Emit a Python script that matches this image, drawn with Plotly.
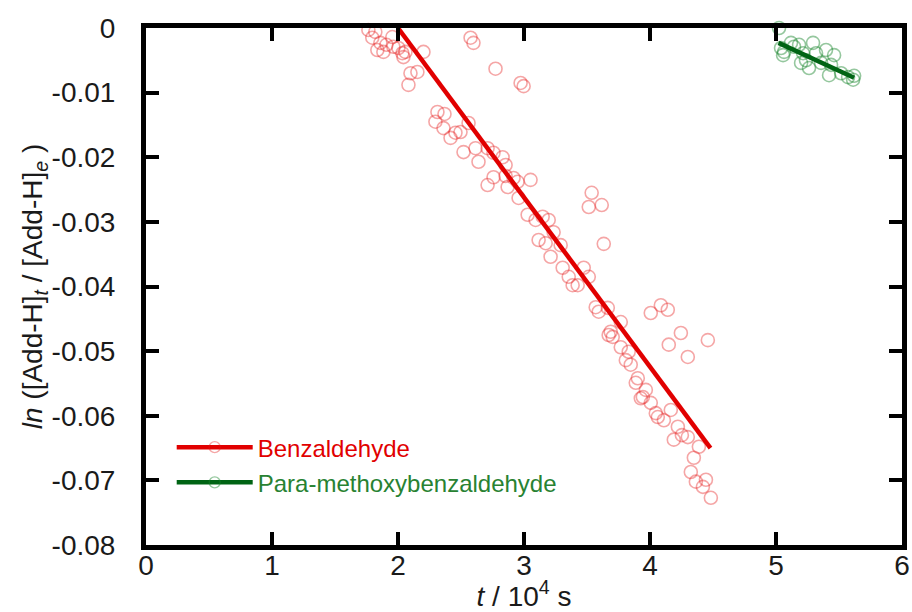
import plotly.graph_objects as go

# Benzaldehyde data (t in 10^4 s, ln ratio)
benz_t = [1.765, 1.820, 1.796, 1.860, 1.836, 1.884, 1.908, 1.955, 1.963, 2.003, 2.035, 2.043, 2.059,
          2.202, 2.099, 2.154, 2.083,
          2.576, 2.599, 2.774, 2.973, 2.997,
          2.297, 2.313, 2.369, 2.361, 2.417, 2.456, 2.496, 2.560, 2.520, 2.615, 2.639, 2.711, 2.758,
          2.830, 2.854, 2.854, 2.711, 2.758, 2.870, 2.917, 2.949, 3.052, 2.957, 3.029, 3.092, 3.148,
          3.196, 3.235, 3.116, 3.172, 3.291, 3.211, 3.307, 3.355, 3.386, 3.426, 3.474, 3.514,
          3.537, 3.514, 3.617, 3.633,
          3.569, 3.593, 3.665, 3.768, 3.688, 3.704, 3.672, 3.768, 3.831, 3.808, 3.847, 3.903, 3.887,
          3.967, 3.943, 3.927, 4.006, 4.046, 4.062, 4.110, 4.165, 4.221, 4.189, 4.253, 4.300,
          4.388, 4.348, 4.324, 4.364, 4.444, 4.420, 4.483,
          4.006, 4.086, 4.141, 4.149, 4.245, 4.300, 4.459]
benz_y = [-0.0003, -0.0006, -0.0015, -0.0023, -0.0034, -0.0037, -0.0026, -0.0014, -0.0029, -0.0031,
          -0.0039, -0.0045, -0.0037,
          -0.0037, -0.0070, -0.0068, -0.0088,
          -0.0015, -0.0023, -0.0063, -0.0085, -0.0090,
          -0.0145, -0.0130, -0.0133, -0.0155, -0.0170, -0.0162, -0.0161, -0.0147, -0.0192, -0.0186,
          -0.0207, -0.0186, -0.0193, -0.0200, -0.0212, -0.0229, -0.0243, -0.0231, -0.0246, -0.0232,
          -0.0238, -0.0235, -0.0263, -0.0289, -0.0297, -0.0292, -0.0297, -0.0316, -0.0328, -0.0333,
          -0.0336, -0.0354, -0.0371, -0.0385, -0.0398, -0.0398, -0.0371, -0.0385,
          -0.0255, -0.0277, -0.0274, -0.0334,
          -0.0432, -0.0439, -0.0433, -0.0455, -0.0470, -0.0478, -0.0475, -0.0494, -0.0501, -0.0514,
          -0.0521, -0.0542, -0.0549, -0.0560, -0.0571, -0.0573, -0.0580, -0.0596, -0.0602, -0.0607,
          -0.0591, -0.0617, -0.0637, -0.0630, -0.0633,
          -0.0648, -0.0665, -0.0687, -0.0702, -0.0699, -0.0710, -0.0727,
          -0.0441, -0.0429, -0.0436, -0.0490, -0.0472, -0.0509, -0.0483]

# Para-methoxybenzaldehyde data
pmb_t = [5.024, 5.040, 5.064, 5.119, 5.143, 5.183, 5.215, 5.238, 5.262, 5.294, 5.318, 5.358,
         5.397, 5.437, 5.461, 5.421, 5.517, 5.572, 5.612, 5.620, 5.199, 5.056]
pmb_y = [0.0, -0.0031, -0.0037, -0.0023, -0.0029, -0.0026, -0.0039, -0.0050, -0.0062, -0.0023,
         -0.0039, -0.0054, -0.0034, -0.0057, -0.0042, -0.0073, -0.0070, -0.0076, -0.0080, -0.0074,
         -0.0054, -0.0042]

# Linear fits (end points)
benz_fit_t = [2.0, 4.48]
benz_fit_y = [0.0, -0.065]
pmb_fit_t = [5.02, 5.62]
pmb_fit_y = [-0.0023, -0.0077]

x_ticks = [0, 1, 2, 3, 4, 5, 6]
y_ticks = [0, -0.01, -0.02, -0.03, -0.04, -0.05, -0.06, -0.07, -0.08]
y_ticktext = ["0", "-0.01", "-0.02", "-0.03", "-0.04", "-0.05", "-0.06", "-0.07", "-0.08"]

RED = "rgb(225,0,0)"
RED_M = "rgba(230,20,20,0.38)"
GREEN = "rgb(0,100,20)"
GREEN_M = "rgba(20,130,40,0.45)"
FONT = "Liberation Sans, Arial, sans-serif"
TXT = "#1a1a1a"

fig = go.Figure()
fig.add_trace(go.Scatter(x=benz_t, y=benz_y, mode="markers", showlegend=False, cliponaxis=False,
                         marker=dict(symbol="circle-open", size=13, color=RED_M, line=dict(width=1.6))))
fig.add_trace(go.Scatter(x=pmb_t, y=pmb_y, mode="markers", showlegend=False, cliponaxis=False,
                         marker=dict(symbol="circle-open", size=13, color=GREEN_M, line=dict(width=1.6))))
fig.add_trace(go.Scatter(x=benz_fit_t, y=benz_fit_y, mode="lines", showlegend=False,
                         line=dict(color=RED, width=4.5)))
fig.add_trace(go.Scatter(x=pmb_fit_t, y=pmb_fit_y, mode="lines", showlegend=False,
                         line=dict(color=GREEN, width=4.5)))
# legend entries
fig.add_trace(go.Scatter(x=[None], y=[None], mode="lines+markers", legendgroup="a",
                         name='<span style="color:rgb(225,0,0)">Benzaldehyde</span>',
                         line=dict(color=RED, width=4.5),
                         marker=dict(symbol="circle-open", size=11, color=RED_M, line=dict(width=1.4))))
fig.add_trace(go.Scatter(x=[None], y=[None], mode="lines+markers", legendgroup="b",
                         name='<span style="color:rgb(40,130,50)">Para-methoxybenzaldehyde</span>',
                         line=dict(color=GREEN, width=4.5),
                         marker=dict(symbol="circle-open", size=11, color=GREEN_M, line=dict(width=1.4))))

axis_common = dict(showline=True, linecolor="black", linewidth=5, mirror="ticks",
                   ticks="inside", ticklen=13, tickwidth=4, tickcolor="black",
                   showgrid=False, zeroline=False, automargin=False,
                   ticklabeloverflow="allow",
                   tickfont=dict(family=FONT, size=28, color=TXT))

fig.update_layout(
    width=912, height=612,
    margin=dict(l=146, r=10, t=28, b=67),
    plot_bgcolor="white", paper_bgcolor="white",
    font=dict(family=FONT, size=28, color=TXT),
    xaxis=dict(range=[0, 6], tickvals=x_ticks, ticktext=[str(v) for v in x_ticks],
               ticklabelstandoff=-9,
               title=dict(text="<i>t</i> / 10<sup>4</sup> s", standoff=0,
                          font=dict(family=FONT, size=28, color=TXT)),
               **axis_common),
    yaxis=dict(range=[-0.08, 0], tickvals=y_ticks, ticktext=y_ticktext, ticklabelstandoff=20,
               title=dict(text="<i>ln</i> ([Add-H]<sub><i>t</i></sub> / [Add-H]<sub><i>e</i></sub> )",
                          standoff=0, font=dict(family=FONT, size=28, color=TXT)),
               **axis_common),
    legend=dict(x=0.034, y=0.232, xanchor="left", yanchor="top", bgcolor="rgba(0,0,0,0)",
                traceorder="grouped", tracegroupgap=1,
                font=dict(family=FONT, size=24), itemwidth=76),
)

# remove the default page margin so the 912x612 figure fills the window exactly
fig.write_html("out.html", config={"displayModeBar": False},
               post_script="document.body.style.margin='0';document.body.style.overflow='hidden';")
